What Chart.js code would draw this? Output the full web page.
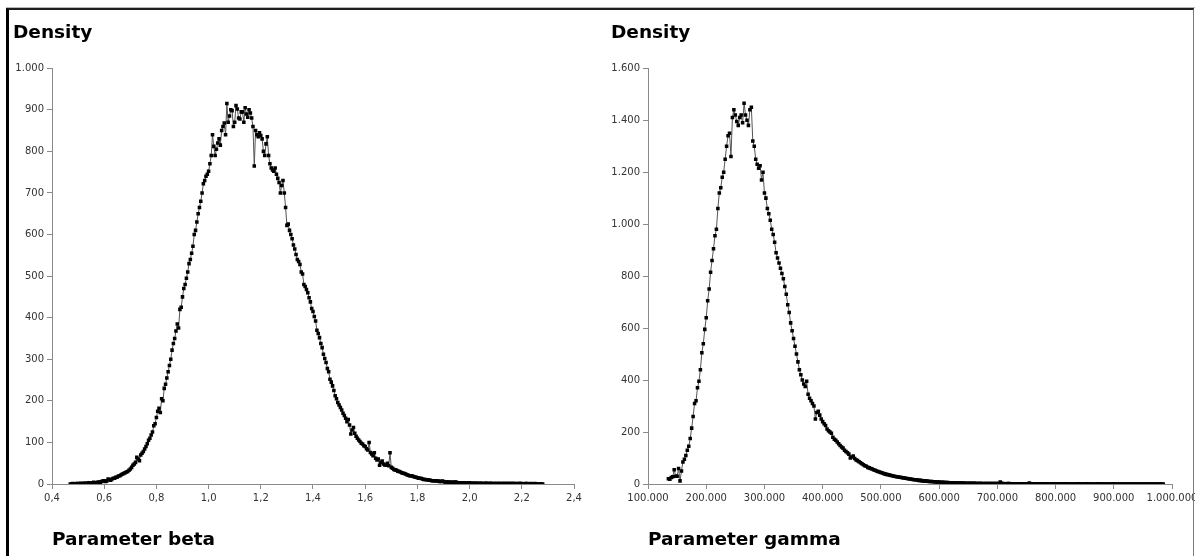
<!DOCTYPE html>
<html><head><meta charset="utf-8">
<script src="https://cdn.jsdelivr.net/npm/chart.js@4"></script>
<style>
html,body{margin:0;padding:0;background:#fff;overflow:hidden;width:1195px;height:556px;}
canvas{position:absolute;top:0;}
#c1{left:0;}
#c2{left:597px;}
#topgrey{position:absolute;left:6px;top:7px;width:1189px;height:1px;background:#b8b8b8;}
#frame{position:absolute;left:6px;top:8px;width:1184px;height:560px;border-top:2px solid #1e1e1e;border-left:3px solid #000;border-right:1px solid #7a7a7a;pointer-events:none;}
</style></head>
<body>
<canvas id="c1" width="597" height="556"></canvas>
<canvas id="c2" width="620" height="556"></canvas>
<div id="topgrey"></div>
<div id="frame"></div>
<script>
// ---- Parameter beta ----
const betaX = [
0.470,0.475,0.480,0.485,0.490,0.495,0.500,0.505,0.510,0.515,0.520,0.525,0.530,0.535,0.540,0.545,0.550,0.555,0.560,0.565,
0.570,0.575,0.580,0.585,0.590,0.595,0.600,0.605,0.610,0.615,0.620,0.625,0.630,0.635,0.640,0.645,0.650,0.655,0.660,0.665,
0.670,0.675,0.680,0.685,0.690,0.695,0.700,0.705,0.710,0.715,0.720,0.725,0.730,0.735,0.740,0.745,0.750,0.755,0.760,0.765,
0.770,0.775,0.780,0.785,0.790,0.795,0.800,0.805,0.810,0.815,0.820,0.825,0.830,0.835,0.840,0.845,0.850,0.855,0.860,0.865,
0.870,0.875,0.880,0.885,0.890,0.895,0.900,0.905,0.910,0.915,0.920,0.925,0.930,0.935,0.940,0.945,0.950,0.955,0.960,0.965,
0.970,0.975,0.980,0.985,0.990,0.995,1.000,1.005,1.010,1.015,1.020,1.025,1.030,1.035,1.040,1.045,1.050,1.055,1.060,1.065,
1.070,1.075,1.080,1.085,1.090,1.095,1.100,1.105,1.110,1.115,1.120,1.125,1.130,1.135,1.140,1.145,1.150,1.155,1.160,1.165,
1.170,1.175,1.180,1.185,1.190,1.195,1.200,1.205,1.210,1.215,1.220,1.225,1.230,1.235,1.240,1.245,1.250,1.255,1.260,1.265,
1.270,1.275,1.280,1.285,1.290,1.295,1.300,1.305,1.310,1.315,1.320,1.325,1.330,1.335,1.340,1.345,1.350,1.355,1.360,1.365,
1.370,1.375,1.380,1.385,1.390,1.395,1.400,1.405,1.410,1.415,1.420,1.425,1.430,1.435,1.440,1.445,1.450,1.455,1.460,1.465,
1.470,1.475,1.480,1.485,1.490,1.495,1.500,1.505,1.510,1.515,1.520,1.525,1.530,1.535,1.540,1.545,1.550,1.555,1.560,1.565,
1.570,1.575,1.580,1.585,1.590,1.595,1.600,1.605,1.610,1.615,1.620,1.625,1.630,1.635,1.640,1.645,1.650,1.655,1.660,1.665,
1.670,1.675,1.680,1.685,1.690,1.695,1.700,1.705,1.710,1.715,1.720,1.725,1.730,1.735,1.740,1.745,1.750,1.755,1.760,1.765,
1.770,1.775,1.780,1.785,1.790,1.795,1.800,1.805,1.810,1.815,1.820,1.825,1.830,1.835,1.840,1.845,1.850,1.855,1.860,1.865,
1.870,1.875,1.880,1.885,1.890,1.895,1.900,1.905,1.910,1.915,1.920,1.925,1.930,1.935,1.940,1.945,1.950,1.955,1.960,1.965,
1.970,1.975,1.980,1.985,1.990,1.995,2.000,2.005,2.010,2.015,2.020,2.025,2.030,2.035,2.040,2.045,2.050,2.055,2.060,2.065,
2.070,2.075,2.080,2.085,2.090,2.095,2.100,2.105,2.110,2.115,2.120,2.125,2.130,2.135,2.140,2.145,2.150,2.155,2.160,2.165,
2.170,2.175,2.180,2.185,2.190,2.195,2.200,2.205,2.210,2.215,2.220,2.225,2.230,2.235,2.240,2.245,2.250,2.255,2.260,2.265,
2.270,2.275,2.280];
const betaDensity = [
0,0,1,0,0,1,1,0,2,1,1,2,2,1,3,2,2,3,4,3,
3,4,5,4,6,7,8,6,7,12,10,9,12,14,14,16,17,19,20,22,
24,25,27,29,30,33,36,40,45,48,52,64,60,56,70,74,78,84,90,97,
105,110,118,125,140,145,160,175,182,172,205,200,230,240,255,270,285,300,322,338,
350,368,385,375,420,425,450,470,480,495,510,530,540,555,572,600,610,630,650,665,
680,700,722,730,740,745,752,770,790,840,812,790,805,820,830,815,850,860,868,840,
915,870,885,900,898,860,870,910,902,880,878,895,895,870,905,890,882,900,892,880,
860,765,850,840,835,845,838,830,800,790,818,835,790,770,760,755,752,760,745,735,
725,700,718,730,700,665,622,625,610,600,590,575,565,552,540,535,528,510,505,480,
475,468,460,448,438,422,415,403,392,370,362,352,338,328,312,302,292,278,270,252,
245,236,225,212,205,196,190,184,178,170,165,158,150,155,142,120,130,136,122,115,
110,106,102,98,96,92,90,85,82,100,76,72,68,75,62,58,60,45,52,55,
48,46,45,50,44,75,40,38,35,34,33,31,30,29,27,26,25,24,22,21,
20,20,19,18,17,16,15,14,14,13,12,11,11,10,10,9,9,8,8,8,
8,7,7,6,6,7,6,5,5,5,5,4,4,4,4,5,4,3,3,3,
3,3,3,2,2,3,3,2,2,2,2,2,2,1,2,2,1,1,2,2,
1,1,2,1,1,1,1,1,1,1,1,1,1,1,1,1,1,1,1,1,
1,1,0,1,1,1,1,0,0,1,1,0,0,1,0,0,1,0,0,0,
0,0,0];
const betaXTicks = [0.4,0.6,0.8,1.0,1.2,1.4,1.6,1.8,2.0,2.2,2.4];
const betaXLabels = ['0,4','0,6','0,8','1,0','1,2','1,4','1,6','1,8','2,0','2,2','2,4'];
const betaYTicks = [0,100,200,300,400,500,600,700,800,900,1000];
const betaYLabels = ['0','100','200','300','400','500','600','700','800','900','1.000'];

// ---- Parameter gamma ----
const gammaX = [
135000,137500,140000,142500,145000,147500,150000,152500,155000,157500,160000,162500,165000,167500,170000,172500,175000,177500,180000,182500,
185000,187500,190000,192500,195000,197500,200000,202500,205000,207500,210000,212500,215000,217500,220000,222500,225000,227500,230000,232500,
235000,237500,240000,242500,245000,247500,250000,252500,255000,257500,260000,262500,265000,267500,270000,272500,275000,277500,280000,282500,
285000,287500,290000,292500,295000,297500,300000,302500,305000,307500,310000,312500,315000,317500,320000,322500,325000,327500,330000,332500,
335000,337500,340000,342500,345000,347500,350000,352500,355000,357500,360000,362500,365000,367500,370000,372500,375000,377500,380000,382500,
385000,387500,390000,392500,395000,397500,400000,402500,405000,407500,410000,412500,415000,417500,420000,422500,425000,427500,430000,432500,
435000,437500,440000,442500,445000,447500,450000,452500,455000,457500,460000,462500,465000,467500,470000,472500,475000,477500,480000,482500,
485000,487500,490000,492500,495000,497500,500000,502500,505000,507500,510000,512500,515000,517500,520000,522500,525000,527500,530000,532500,
535000,537500,540000,542500,545000,547500,550000,552500,555000,557500,560000,562500,565000,567500,570000,572500,575000,577500,580000,582500,
585000,587500,590000,592500,595000,597500,600000,602500,605000,607500,610000,612500,615000,617500,620000,622500,625000,627500,630000,632500,
635000,637500,640000,642500,645000,647500,650000,652500,655000,657500,660000,662500,665000,667500,670000,672500,675000,677500,680000,682500,
685000,687500,690000,692500,695000,697500,700000,702500,705000,707500,710000,712500,715000,717500,720000,722500,725000,727500,730000,732500,
735000,737500,740000,742500,745000,747500,750000,752500,755000,757500,760000,762500,765000,767500,770000,772500,775000,777500,780000,782500,
785000,787500,790000,792500,795000,797500,800000,802500,805000,807500,810000,812500,815000,817500,820000,822500,825000,827500,830000,832500,
835000,837500,840000,842500,845000,847500,850000,852500,855000,857500,860000,862500,865000,867500,870000,872500,875000,877500,880000,882500,
885000,887500,890000,892500,895000,897500,900000,902500,905000,907500,910000,912500,915000,917500,920000,922500,925000,927500,930000,932500,
935000,937500,940000,942500,945000,947500,950000,952500,955000,957500,960000,962500,965000,967500,970000,972500,975000,977500,980000,982500,
985000];
const gammaDensity = [
20,18,25,28,55,30,30,60,12,50,85,95,110,130,145,175,215,260,310,320,
370,395,440,505,540,595,640,705,750,815,860,905,955,980,1060,1120,1140,1180,1200,1250,
1300,1340,1350,1260,1410,1440,1420,1395,1380,1410,1420,1390,1465,1420,1400,1380,1440,1450,1320,1300,
1250,1230,1215,1225,1170,1200,1120,1100,1060,1040,1015,980,960,930,890,870,850,830,810,790,
760,730,690,660,620,590,560,530,500,470,440,420,400,385,375,395,345,330,320,310,
300,250,275,280,265,250,240,232,225,212,205,200,195,180,172,168,162,155,148,142,
138,130,125,120,115,100,104,108,98,92,90,86,82,78,74,70,68,64,62,60,
58,55,53,50,48,46,44,42,40,38,37,36,35,33,32,30,29,28,27,26,
25,24,23,22,21,20,19,18,17,16,16,15,14,14,13,12,12,11,11,10,
10,10,9,9,8,8,8,7,7,7,6,6,6,5,5,5,5,4,4,4,
4,4,4,4,3,3,3,3,3,3,3,3,2,2,3,2,2,2,2,2,
2,2,2,2,2,2,2,2,8,3,2,1,1,2,2,1,1,1,1,1,
1,1,1,1,1,1,1,1,4,1,1,1,1,1,1,1,0,1,1,1,
1,0,0,1,1,1,1,0,0,1,1,1,0,1,1,0,0,0,0,0,
0,1,1,0,0,0,0,1,1,0,0,0,0,0,0,1,1,0,0,0,
0,0,0,0,0,0,1,0,0,0,0,0,0,0,0,0,0,0,0,0,
0,0,0,0,0,0,0,0,0,0,0,0,0,0,0,0,0,0,0,0,
0];
const gammaXTicks = [100000,200000,300000,400000,500000,600000,700000,800000,900000,1000000];
const gammaXLabels = ['100.000','200.000','300.000','400.000','500.000','600.000','700.000','800.000','900.000','1.000.000'];
const gammaYTicks = [0,200,400,600,800,1000,1200,1400,1600];
const gammaYLabels = ['0','200','400','600','800','1.000','1.200','1.400','1.600'];

const titleText = 'Density';
const betaTitle = 'Parameter beta';
const gammaTitle = 'Parameter gamma';

const TICK_FONT = {family:'DejaVu Sans', size:10};
const BOLD_FONT = {family:'DejaVu Sans', size:18.5, weight:'bold'};
const AXIS_COL = '#8a8a8a';

function makeChart(id, xs, ys, xT, xL, yT, yL, xTitle, padLeft, yWidth, padRight) {
  const pts = xs.map((x, i) => ({x: x, y: ys[i]}));
  return new Chart(document.getElementById(id), {
    type: 'line',
    data: {datasets: [{
      data: pts,
      borderColor: '#555',
      borderWidth: 1,
      tension: 0,
      fill: false,
      pointStyle: 'rect',
      pointRadius: 2.5,
      pointBorderWidth: 0,
      pointBackgroundColor: '#000'
    }]},
    options: {
      responsive: false,
      animation: false,
      events: [],
      layout: {padding: {left: padLeft, right: padRight, top: 0, bottom: 0}},
      plugins: {
        legend: {display: false},
        tooltip: {enabled: false},
        title: {display: true, text: titleText, align: 'start', color: '#000',
                font: BOLD_FONT, padding: {top: 22, bottom: 24}}
      },
      scales: {
        x: {
          type: 'linear', min: xT[0], max: xT[xT.length - 1],
          afterBuildTicks: s => { s.ticks = xT.map(v => ({value: v})); },
          afterFit: s => { s.height = 72; },
          ticks: {callback: (v, i) => xL[i], autoSkip: false, maxRotation: 0,
                  color: '#333', font: TICK_FONT, padding: 3},
          grid: {drawOnChartArea: false, drawTicks: true, tickLength: 5, color: AXIS_COL},
          border: {display: true, color: AXIS_COL},
          title: {display: true, text: xTitle, align: 'start', color: '#000',
                  font: BOLD_FONT, padding: {top: 0, bottom: 5}}
        },
        y: {
          type: 'linear', min: yT[0], max: yT[yT.length - 1],
          afterBuildTicks: s => { s.ticks = yT.map(v => ({value: v})); },
          afterFit: s => { s.width = yWidth; },
          ticks: {callback: (v, i) => yL[i], autoSkip: false,
                  color: '#333', font: TICK_FONT, padding: 3},
          grid: {drawOnChartArea: false, drawTicks: true, tickLength: 5, color: AXIS_COL},
          border: {display: true, color: AXIS_COL}
        }
      }
    }
  });
}

makeChart('c1', betaX, betaDensity, betaXTicks, betaXLabels, betaYTicks, betaYLabels, betaTitle, 13, 39, 23);
makeChart('c2', gammaX, gammaDensity, gammaXTicks, gammaXLabels, gammaYTicks, gammaYLabels, gammaTitle, 14, 37, 45);
</script>
</body></html>
